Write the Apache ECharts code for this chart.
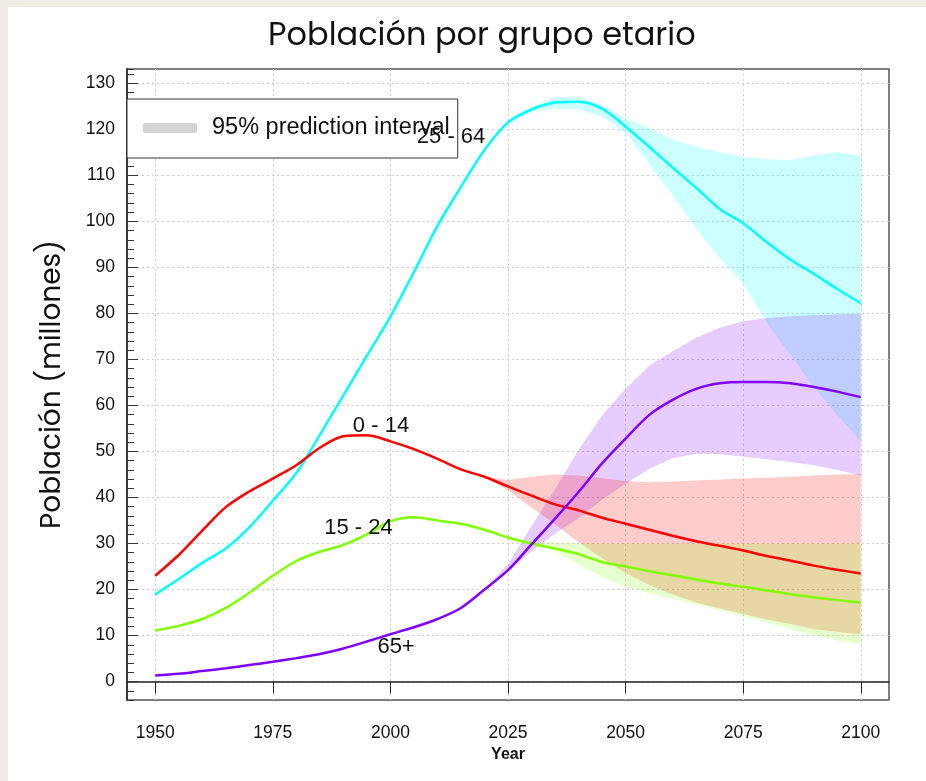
<!DOCTYPE html>
<html>
<head>
<meta charset="utf-8">
<script src="https://cdn.jsdelivr.net/npm/echarts@6/dist/echarts.min.js"></script>
<style>
  html, body { margin: 0; padding: 0; background: #f0ebe4; }
  #chart { position: absolute; left: 8px; top: 7px; width: 918px; height: 774px; background: #ffffff; }
</style>
</head>
<body>
<div id="chart"></div>
<script>
  // años 1950..2100 cada 5
  var years = [1950, 1955, 1960, 1965, 1970, 1975, 1980, 1985, 1990, 1995, 2000, 2005, 2010, 2015, 2020, 2025,
    2030, 2035, 2040, 2045, 2050, 2055, 2060, 2065, 2070, 2075, 2080, 2085, 2090, 2095, 2100];

  var pop0_14 = [23.0, 27.5, 32.8, 37.9, 41.3, 44.1, 47.0, 50.8, 53.3, 53.5, 52.2, 50.5, 48.4, 46.1, 44.5, 42.4,
    40.4, 38.5, 37.2, 35.6, 34.3, 33.0, 31.7, 30.5, 29.5, 28.5, 27.3, 26.3, 25.2, 24.3, 23.5];
  var pop15_24 = [11.1, 12.1, 13.6, 16.0, 19.3, 23.0, 26.2, 28.2, 29.7, 32.0, 34.8, 35.7, 35.0, 34.3, 33.0, 31.3,
    30.0, 28.9, 27.7, 26.0, 25.0, 24.0, 23.1, 22.2, 21.3, 20.6, 19.8, 19.0, 18.3, 17.7, 17.2];
  var pop25_64 = [18.9, 22.3, 25.8, 28.9, 33.5, 39.3, 45.3, 53.6, 62.2, 70.8, 79.3, 89.0, 99.0, 107.5, 115.5, 121.5,
    124.3, 125.8, 126.0, 124.5, 120.6, 116.2, 111.7, 107.3, 102.7, 99.6, 95.5, 91.7, 88.6, 85.3, 82.2];
  var pop65 = [1.3, 1.7, 2.3, 2.9, 3.6, 4.3, 5.1, 6.0, 7.2, 8.7, 10.3, 11.8, 13.6, 16.0, 20.0, 24.2,
    29.8, 35.4, 41.2, 47.4, 52.8, 57.9, 61.2, 63.6, 64.8, 65.1, 65.1, 64.8, 64.0, 63.0, 61.8];

  // intervalo de prediccion 95% (2020..2100)
  var bandYears = [2020, 2025, 2030, 2035, 2040, 2045, 2050, 2055, 2060, 2065, 2070, 2075, 2080, 2085, 2090, 2095, 2100];
  var up0_14 = [44.5, 43.8, 44.5, 45.0, 44.8, 44.2, 43.6, 43.3, 43.5, 43.7, 43.9, 44.1, 44.3, 44.5, 44.8, 45.0, 45.1];
  var lo0_14 = [44.5, 41.6, 37.8, 34.2, 30.3, 26.8, 23.6, 21.0, 18.9, 17.2, 15.9, 14.7, 13.5, 12.5, 11.4, 10.8, 10.3];
  var up15_24 = [33.0, 31.3, 30.5, 30.2, 30.0, 30.0, 30.0, 30.0, 30.0, 30.0, 30.0, 30.0, 30.0, 30.0, 30.0, 30.0, 30.0];
  var lo15_24 = [33.0, 31.3, 29.6, 28.3, 25.5, 22.8, 20.6, 19.2, 18.0, 16.8, 15.5, 14.2, 12.9, 11.5, 10.0, 9.0, 8.2];
  var up25_64 = [115.5, 121.8, 124.8, 127.0, 127.0, 125.3, 122.3, 120.2, 117.8, 116.2, 115.0, 114.0, 113.5, 113.3, 114.3, 115.0, 114.2];
  var lo25_64 = [115.5, 121.2, 123.8, 124.5, 124.3, 122.8, 119.2, 112.5, 105.6, 98.5, 92.0, 86.5, 78.0, 71.0, 64.0, 58.0, 52.2];
  var up65 = [20.0, 25.5, 33.8, 41.8, 50.4, 57.8, 63.6, 68.6, 71.8, 74.7, 76.9, 78.3, 79.0, 79.4, 79.6, 79.8, 79.9];
  var lo65 = [20.0, 23.8, 28.3, 32.2, 35.5, 39.5, 43.0, 46.2, 48.5, 49.5, 49.4, 48.9, 48.3, 47.7, 47.0, 46.0, 44.8];

  var xTicks = [1950, 1975, 2000, 2025, 2050, 2075, 2100];
  var yTicks = [0, 10, 20, 30, 40, 50, 60, 70, 80, 90, 100, 110, 120, 130];

  // etiquetas de grupo (en coordenadas de datos)
  var groupLabels = [
    { name: '0 - 14', coord: [1998.0, 55.6] },
    { name: '15 - 24', coord: [1993.2, 33.3] },
    { name: '25 - 64', coord: [2012.9, 118.4] },
    { name: '65+', coord: [2001.2, 7.45] }
  ];

  var bandName = '95% prediction interval';
  var txtFont = '"Liberation Sans", Arial, sans-serif';

  function pairs(xs, ys) {
    return xs.map(function (x, i) { return [x, ys[i]]; });
  }

  function bandSeries(up, lo, color) {
    return {
      name: bandName,
      type: 'custom',
      clip: true,
      z: 1,
      silent: true,
      data: [[bandYears[0], up[0]]],
      renderItem: function (params, api) {
        var pts = [];
        for (var i = 0; i < bandYears.length; i++) pts.push(api.coord([bandYears[i], up[i]]));
        for (var j = bandYears.length - 1; j >= 0; j--) pts.push(api.coord([bandYears[j], lo[j]]));
        return {
          type: 'polygon',
          shape: { points: pts },
          style: { fill: color, opacity: 0.2 }
        };
      }
    };
  }

  function lineSeries(name, ys, color, label) {
    return {
      name: name,
      type: 'line',
      z: 3,
      data: pairs(years, ys),
      showSymbol: false,
      smooth: 0.3,
      lineStyle: { color: color, width: 2.5 },
      itemStyle: { color: color },
      markPoint: {
        z: 6,
        symbol: 'circle',
        symbolSize: 0,
        silent: true,
        label: {
          show: true, position: 'inside', formatter: '{b}',
          color: '#111', fontSize: 22, fontFamily: txtFont
        },
        data: [label]
      }
    };
  }

  var myChart = echarts.init(document.getElementById('chart'));
  myChart.setOption({
    animation: false,
    title: {
      text: 'Población por grupo etario',
      left: 255,
      top: 9,
      textStyle: { fontFamily: 'Poppins, Lato, sans-serif', fontWeight: 'normal', fontSize: 32, color: '#111' }
    },
    legend: {
      left: 119,
      top: 92,
      orient: 'vertical',
      backgroundColor: '#ffffff',
      borderColor: '#333',
      borderWidth: 1,
      borderRadius: 0,
      padding: [17, 8, 18, 16],
      itemWidth: 54,
      itemHeight: 10,
      icon: 'roundRect',
      data: [{ name: bandName, itemStyle: { color: '#d3d3d3' } }],
      textStyle: { fontFamily: txtFont, fontSize: 23.5, color: '#111', padding: [0, 0, 0, 10] },
      selectedMode: false
    },
    grid: {
      left: 119,
      top: 62,
      right: 37,
      bottom: 81,
      show: true,
      borderColor: '#555',
      borderWidth: 1.5
    },
    xAxis: {
      type: 'value',
      min: 1944,
      max: 2106,
      name: 'Year',
      nameLocation: 'middle',
      nameGap: 46,
      nameTextStyle: { fontFamily: txtFont, fontSize: 16, fontWeight: 'bold', color: '#111' },
      axisLine: { show: true, lineStyle: { color: '#222', width: 1.5 } },
      axisTick: { show: true, inside: false, length: 12, customValues: xTicks, lineStyle: { color: '#222', width: 1 } },
      axisLabel: {
        customValues: xTicks, margin: 24, fontFamily: txtFont, fontSize: 17.5, color: '#111',
        formatter: function (v) { return String(v); }
      },
      splitLine: { show: true, lineStyle: { color: '#cfcfcf', type: [2, 3], width: 1 } }
    },
    yAxis: [{
      type: 'value',
      min: -4,
      max: 133.1,
      name: 'Población (millones)',
      nameLocation: 'middle',
      nameGap: 60,
      nameTextStyle: { fontFamily: 'Poppins, Lato, sans-serif', fontSize: 28, color: '#111' },
      axisLine: { show: true, lineStyle: { color: '#222', width: 1.5 } },
      axisTick: { show: true, inside: true, length: 11, customValues: yTicks, lineStyle: { color: '#333', width: 1 } },
      axisLabel: { customValues: yTicks, margin: 12, fontFamily: txtFont, fontSize: 17.5, color: '#111' },
      splitLine: { show: true, lineStyle: { color: '#cfcfcf', type: [2, 3], width: 1 } }
    }, {
      // ticks menores cada 2
      type: 'value',
      position: 'left',
      min: -4,
      max: 133.1,
      interval: 2,
      axisLine: { show: false },
      axisTick: { show: true, inside: true, length: 7, lineStyle: { color: '#333', width: 1 } },
      axisLabel: { show: false },
      splitLine: { show: false }
    }],
    series: [
      bandSeries(up25_64, lo25_64, '#00ffff'),
      bandSeries(up65, lo65, '#8000ff'),
      bandSeries(up0_14, lo0_14, '#ff0000'),
      bandSeries(up15_24, lo15_24, '#80ff00'),
      lineSeries('25 - 64', pop25_64, '#00ffff', groupLabels[2]),
      lineSeries('0 - 14', pop0_14, '#ff0000', groupLabels[0]),
      lineSeries('15 - 24', pop15_24, '#80ff00', groupLabels[1]),
      lineSeries('65+', pop65, '#8000ff', groupLabels[3])
    ]
  });
</script>
</body>
</html>
